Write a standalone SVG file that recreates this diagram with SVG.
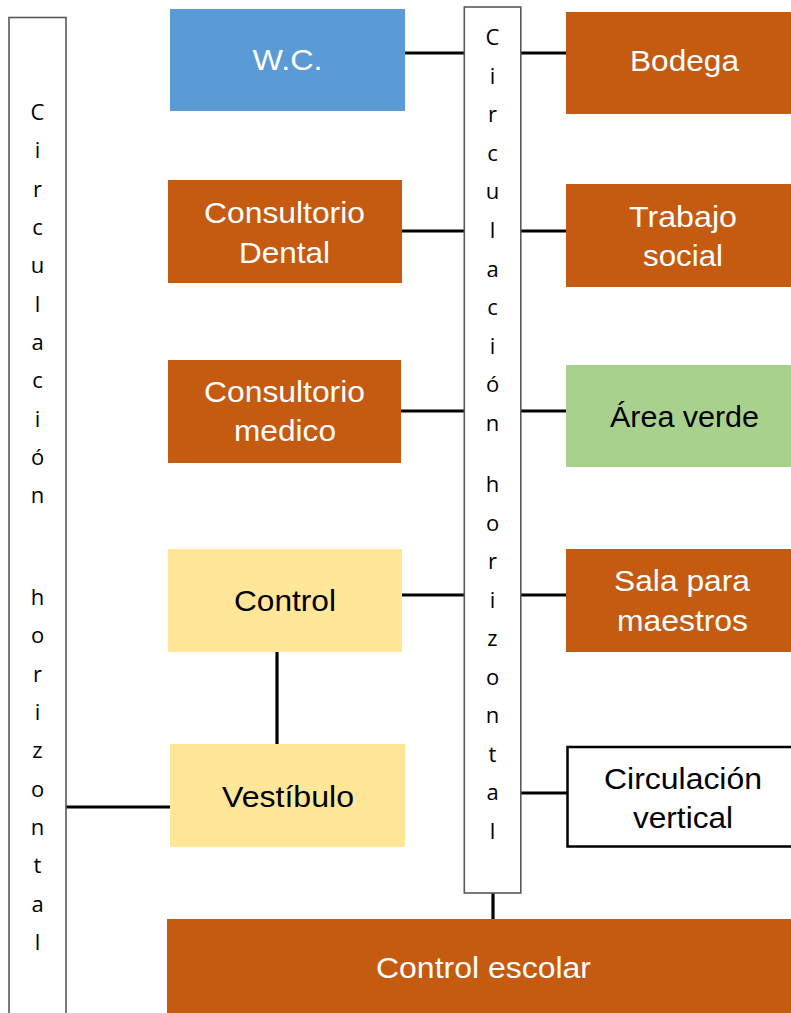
<svg xmlns="http://www.w3.org/2000/svg" width="791" height="1013" viewBox="0 0 791 1013">
<style>
.orange{fill:#C55A11}
.blue{fill:#5B9BD5}
.green{fill:#A9D18E}
.yellow{fill:#FFE699}
.col{fill:#FFFFFF;stroke:#595959;stroke-width:1.6}
.wbox{fill:#FFFFFF;stroke:#000000;stroke-width:2.5}
.lbl{font-family:"Liberation Sans",Arial,sans-serif;font-size:29px;text-anchor:middle}
.w{fill:#FFFFFF}
.k{fill:#000000}
.vt{font-family:"Open Sans","Noto Sans",sans-serif;font-size:22px;text-anchor:middle;fill:#000000}
.con line{stroke:#000000;stroke-width:3.2}
</style>
<rect width="791" height="1013" fill="#FFFFFF"/>
<g class="con">
<line x1="405" y1="53" x2="464" y2="53"/>
<line x1="521" y1="53" x2="566" y2="53"/>
<line x1="402" y1="231" x2="464" y2="231"/>
<line x1="521" y1="231" x2="566" y2="231"/>
<line x1="401" y1="411" x2="464" y2="411"/>
<line x1="521" y1="411" x2="566" y2="411"/>
<line x1="402" y1="595" x2="464" y2="595"/>
<line x1="521" y1="595" x2="566" y2="595"/>
<line x1="277" y1="652" x2="277" y2="744"/>
<line x1="66" y1="807" x2="170" y2="807"/>
<line x1="521" y1="793" x2="567" y2="793"/>
<line x1="493" y1="893" x2="493" y2="919"/>
</g>
<g id="circ-izq">
<rect class="col" x="9" y="17.5" width="57" height="1010"/>
<text class="vt"><tspan x="37.5" y="120">C</tspan><tspan x="37.5" y="158.3">i</tspan><tspan x="37.5" y="196.7">r</tspan><tspan x="37.5" y="235">c</tspan><tspan x="37.5" y="273.3">u</tspan><tspan x="37.5" y="311.7">l</tspan><tspan x="37.5" y="350">a</tspan><tspan x="37.5" y="388.3">c</tspan><tspan x="37.5" y="426.7">i</tspan><tspan x="37.5" y="465">ó</tspan><tspan x="37.5" y="503.3">n</tspan><tspan x="37.5" y="605">h</tspan><tspan x="37.5" y="643.3">o</tspan><tspan x="37.5" y="681.7">r</tspan><tspan x="37.5" y="720">i</tspan><tspan x="37.5" y="758.3">z</tspan><tspan x="37.5" y="796.7">o</tspan><tspan x="37.5" y="835">n</tspan><tspan x="37.5" y="873.3">t</tspan><tspan x="37.5" y="911.7">a</tspan><tspan x="37.5" y="950">l</tspan></text>
</g>
<g id="circ-centro">
<rect class="col" x="464.3" y="7" width="56.5" height="886"/>
<text class="vt"><tspan x="492.5" y="45">C</tspan><tspan x="492.5" y="83.6">i</tspan><tspan x="492.5" y="122.2">r</tspan><tspan x="492.5" y="160.8">c</tspan><tspan x="492.5" y="199.4">u</tspan><tspan x="492.5" y="238">l</tspan><tspan x="492.5" y="276.6">a</tspan><tspan x="492.5" y="315.2">c</tspan><tspan x="492.5" y="353.8">i</tspan><tspan x="492.5" y="392.4">ó</tspan><tspan x="492.5" y="431">n</tspan><tspan x="492.5" y="492">h</tspan><tspan x="492.5" y="530.5">o</tspan><tspan x="492.5" y="569">r</tspan><tspan x="492.5" y="607.5">i</tspan><tspan x="492.5" y="646">z</tspan><tspan x="492.5" y="684.5">o</tspan><tspan x="492.5" y="723">n</tspan><tspan x="492.5" y="761.5">t</tspan><tspan x="492.5" y="800">a</tspan><tspan x="492.5" y="838.5">l</tspan></text>
</g>
<g id="wc">
<rect class="blue" x="170" y="9" width="235" height="102"/>
<text class="lbl w" x="287.5" y="70" textLength="70" lengthAdjust="spacingAndGlyphs">W.C.</text>
</g>
<g id="bodega">
<rect class="orange" x="566" y="12" width="240" height="102"/>
<text class="lbl w" x="684.5" y="71" textLength="109" lengthAdjust="spacingAndGlyphs">Bodega</text>
</g>
<g id="consultorio-dental">
<rect class="orange" x="168" y="180" width="234" height="103"/>
<text class="lbl w" x="284.5" y="222.5" textLength="161" lengthAdjust="spacingAndGlyphs">Consultorio</text>
<text class="lbl w" x="284.5" y="262.5" textLength="91" lengthAdjust="spacingAndGlyphs">Dental</text>
</g>
<g id="trabajo-social">
<rect class="orange" x="566" y="184" width="240" height="103"/>
<text class="lbl w" x="683" y="226.5" textLength="108" lengthAdjust="spacingAndGlyphs">Trabajo</text>
<text class="lbl w" x="683" y="266" textLength="80" lengthAdjust="spacingAndGlyphs">social</text>
</g>
<g id="consultorio-medico">
<rect class="orange" x="168" y="360" width="233" height="103"/>
<text class="lbl w" x="284.5" y="402" textLength="161" lengthAdjust="spacingAndGlyphs">Consultorio</text>
<text class="lbl w" x="285" y="441" textLength="102" lengthAdjust="spacingAndGlyphs">medico</text>
</g>
<g id="area-verde">
<rect class="green" x="566" y="365" width="240" height="102"/>
<text class="lbl k" x="684.5" y="426.5" textLength="149" lengthAdjust="spacingAndGlyphs">Área verde</text>
</g>
<g id="control">
<rect class="yellow" x="168" y="549" width="234" height="103"/>
<text class="lbl k" x="285" y="611" textLength="102" lengthAdjust="spacingAndGlyphs">Control</text>
</g>
<g id="sala-maestros">
<rect class="orange" x="566" y="549" width="240" height="103"/>
<text class="lbl w" x="682" y="590.5" textLength="136" lengthAdjust="spacingAndGlyphs">Sala para</text>
<text class="lbl w" x="682.5" y="631" textLength="131" lengthAdjust="spacingAndGlyphs">maestros</text>
</g>
<g id="vestibulo">
<rect class="yellow" x="170" y="744" width="235" height="103"/>
<text class="lbl k" x="288" y="806.5" textLength="132" lengthAdjust="spacingAndGlyphs">Vestíbulo</text>
</g>
<g id="circulacion-vertical">
<rect class="wbox" x="567.5" y="747" width="240" height="99.5"/>
<text class="lbl k" x="683" y="788.5" textLength="158" lengthAdjust="spacingAndGlyphs">Circulación</text>
<text class="lbl k" x="683" y="828" textLength="100" lengthAdjust="spacingAndGlyphs">vertical</text>
</g>
<g id="control-escolar">
<rect class="orange" x="167" y="919" width="640" height="100"/>
<text class="lbl w" x="483.5" y="977.5" textLength="215" lengthAdjust="spacingAndGlyphs">Control escolar</text>
</g>
</svg>
